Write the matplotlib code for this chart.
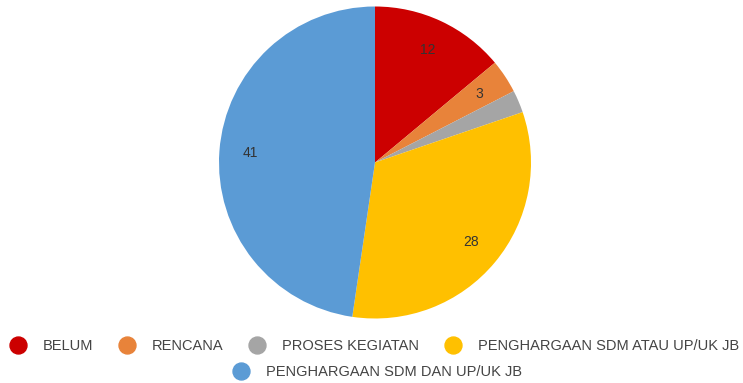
import matplotlib
matplotlib.use("Agg")
import matplotlib.pyplot as plt
from matplotlib.lines import Line2D

categories = ["BELUM", "RENCANA", "PROSES KEGIATAN",
              "PENGHARGAAN SDM ATAU UP/UK JB", "PENGHARGAAN SDM DAN UP/UK JB"]
counts = [12, 3, 2, 28, 41]
colors = ["#cc0000", "#e8833a", "#a5a5a5", "#ffc000", "#5b9bd5"]

plt.rcParams["font.family"] = ["Liberation Sans", "Arimo", "DejaVu Sans"]

W, H = 743, 383
fig = plt.figure(figsize=(W / 100, H / 100), dpi=100)
cx, cy, r = 375, 162.5, 156
ax = fig.add_axes([(cx - r) / W, 1 - (cy + r) / H, 2 * r / W, 2 * r / H])

total = sum(counts)


def fmt(pct):
    v = round(pct * total / 100)
    return str(v) if v >= 3 else ""   # the 2-count slice stays unlabeled


ax.pie(counts, colors=colors, startangle=90, counterclock=False,
       autopct=fmt, pctdistance=0.8,
       textprops=dict(fontsize=10, color="#333333"))
ax.set_xlim(-1, 1)
ax.set_ylim(-1, 1)
ax.set_aspect("equal")


def handle(c):
    return Line2D([], [], ls="", marker="o", markersize=12.2,
                  markerfacecolor=c, markeredgecolor=c)


# two rows: four entries, then the last one centred underneath
kw = dict(frameon=False, fontsize=10.5, labelcolor="#444444",
          handletextpad=1.1, columnspacing=1.72, handlelength=1.2,
          borderaxespad=0)
fig.legend([handle(c) for c in colors[:4]], categories[:4], ncol=4,
           loc="center", bbox_to_anchor=(374 / W, 1 - 346 / H), **kw)
fig.legend([handle(colors[4])], categories[4:], ncol=1,
           loc="center", bbox_to_anchor=(377 / W, 1 - 372 / H), **kw)

fig.savefig("out.png", dpi=100, facecolor="white")
